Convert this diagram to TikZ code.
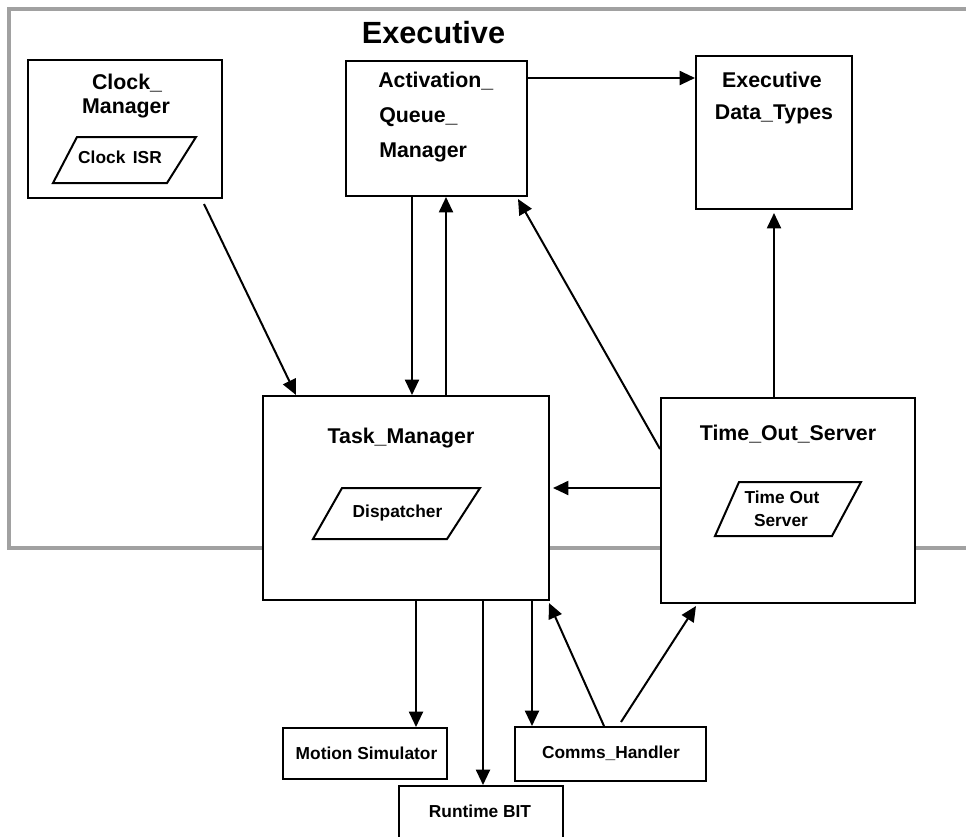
\documentclass[tikz,border=0pt]{standalone}
\usepackage{fontspec}
\setmainfont{Liberation Sans}
\usetikzlibrary{arrows.meta,fit}

\tikzset{
  box/.style={draw=black, fill=white, line width=1.5pt, inner sep=0pt},
  frameline/.style={draw=black!37, line width=2.8pt},
  arr/.style={draw=black, line width=1.5pt, -{Triangle[length=11.5pt,width=10.5pt]}},
  para/.style={draw=black, line width=1.5pt, line join=miter},
  big/.style={font=\fontsize{16}{19}\selectfont\bfseries, inner sep=0pt, anchor=base},
  small/.style={font=\fontsize{13}{15}\selectfont\bfseries, inner sep=0pt, anchor=base},
  title/.style={font=\fontsize{23}{27}\selectfont\bfseries, inner sep=0pt, anchor=base},
}

\begin{document}
\begin{tikzpicture}[x=0.75pt, y=-0.75pt]
\useasboundingbox (0,0) rectangle (966,836);
\clip (0,0) rectangle (966,836);

% Executive package frame (open on the right)
\draw[frameline] (990,9) -- (9,9) -- (9,548) -- (990,548);
\node[title] (exectitle) at (433.5,43) {Executive};

% Component boxes
\node[box, fit={(28,60) (222,198)}] (clk) {};
\node[box, fit={(346,61) (527,196)}] (aqm) {};
\node[box, fit={(696,56) (852,209)}] (edt) {};
\node[box, fit={(263,396) (549,600)}] (tm) {};
\node[box, fit={(661,398) (915,603)}] (tos) {};
\node[box, fit={(283,728) (447,779)}] (ms) {};
\node[box, fit={(399,786) (563,850)}] (rb) {};
\node[box, fit={(515,727) (706,781)}] (ch) {};

% Clock_Manager
\node[big] (clkA) at (127,89) {Clock\_};
\node[big] (clkB) at (126,113) {Manager};
\draw[para] (77,137) -- (196,137) -- (167,183) -- (53,183) -- cycle;
\node[small] (isr) at (120,163) {Clock\hspace{2pt} ISR};

% Activation_Queue_Manager
\node[big, anchor=base west] (aqmA) at (378,87) {Activation\_};
\node[big, anchor=base west] (aqmB) at (379,122) {Queue\_};
\node[big, anchor=base west] (aqmC) at (379,157) {Manager};

% Executive Data_Types
\node[big] (edtA) at (772,87) {Executive};
\node[big] (edtB) at (774,119) {Data\_Types};

% Task_Manager
\node[big] (tmA) at (401,443) {Task\_Manager};
\draw[para] (342,488) -- (480,488) -- (447,539) -- (313,539) -- cycle;
\node[small] (disp) at (397.5,517) {Dispatcher};

% Time_Out_Server
\node[big] (tosA) at (788,440) {Time\_Out\_Server};
\draw[para] (739,482) -- (861,482) -- (832,536) -- (715,536) -- cycle;
\node[small] (tosB) at (782,503) {Time Out};
\node[small] (tosC) at (781,526) {Server};

% External units
\node[small] (msA) at (366.5,759) {Motion Simulator};
\node[small] (rbA) at (480,817) {Runtime BIT};
\node[small] (chA) at (611,758) {Comms\_Handler};

% Connectors
\draw[arr] ([shift={(-19,5)}]clk.south east) -- ([shift={(34,0)}]tm.north west);
\draw[arr] ([shift={(67,0)}]aqm.south west) -- ([shift={(150,0)}]tm.north west);
\draw[arr] ([shift={(184,0)}]tm.north west) -- ([shift={(101,0)}]aqm.south west);
\draw[arr] ([shift={(0,52)}]tos.north west) -- ([shift={(-10,2)}]aqm.south east);
\draw[arr] ([shift={(0,91)}]tos.north west) -- ([shift={(3,93)}]tm.north east);
\draw[arr] ([shift={(114,0)}]tos.north west) -- ([shift={(79,3)}]edt.south west);
\draw[arr] ([shift={(0,18)}]aqm.north east) -- ([shift={(0,23)}]edt.north west);
\draw[arr] ([shift={(154,0)}]tm.south west) -- ([shift={(134,0)}]ms.north west);
\draw[arr] ([shift={(221,0)}]tm.south west) -- ([shift={(85,0)}]rb.north west);
\draw[arr] ([shift={(270,0)}]tm.south west) -- ([shift={(18,0)}]ch.north west);
\draw[arr] ([shift={(90,0)}]ch.north west) -- ([shift={(-1,2)}]tm.south east);
\draw[arr] ([shift={(107,-4)}]ch.north west) -- ([shift={(36,2)}]tos.south west);
\end{tikzpicture}
\end{document}
